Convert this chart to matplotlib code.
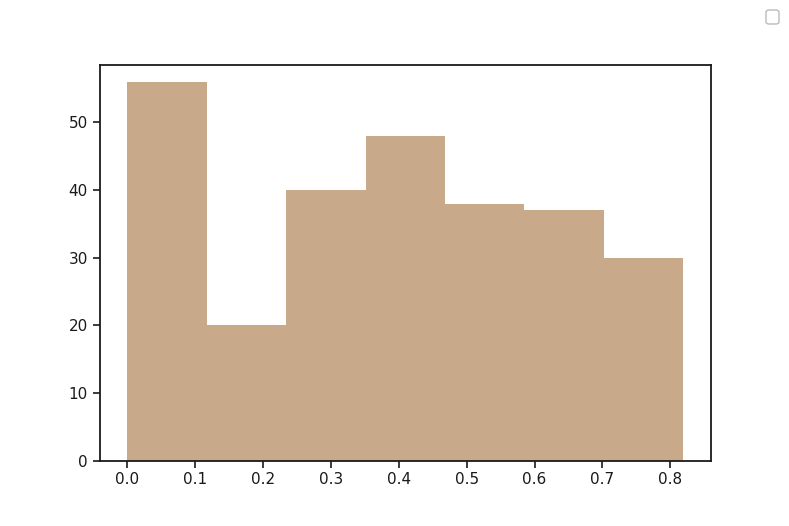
import matplotlib
matplotlib.use("Agg")
import matplotlib.pyplot as plt
from matplotlib.patches import FancyBboxPatch
import numpy as np

# Histogram data
bin_edges = [0.0, 0.117, 0.234, 0.351, 0.468, 0.585, 0.702, 0.819]
counts = [56, 20, 40, 48, 38, 37, 30]
x_ticks = [0.0, 0.1, 0.2, 0.3, 0.4, 0.5, 0.6, 0.7, 0.8]
y_ticks = [0, 10, 20, 30, 40, 50]

fig = plt.figure(figsize=(7.89, 5.26), dpi=100)
ax = fig.add_axes([0.1262, 0.1245, 0.7750, 0.7519])

centers = [(bin_edges[i] + bin_edges[i + 1]) / 2 for i in range(len(counts))]
ax.hist(centers, bins=bin_edges, weights=counts, color="#c8a98a")

ax.set_xticks(x_ticks)
ax.set_xticklabels([f"{t:.1f}" for t in x_ticks])
ax.set_yticks(y_ticks)
ax.tick_params(labelsize=11, length=5, width=1.2, colors="#1a1a1a")
for s in ax.spines.values():
    s.set_linewidth(1.3)
    s.set_color("#1a1a1a")
ax.set_xlim(-0.041, 0.86)
ax.set_ylim(0, 58.5)

# small checkbox UI element at top right
box = FancyBboxPatch((766 / 789, 1 - 24 / 526), 13 / 789, 14 / 526,
                     boxstyle="round,pad=0,rounding_size=0.004",
                     transform=fig.transFigure, facecolor="white",
                     edgecolor="#bbbbbb", linewidth=1)
fig.patches.append(box)

fig.savefig("out.png", dpi=100)
